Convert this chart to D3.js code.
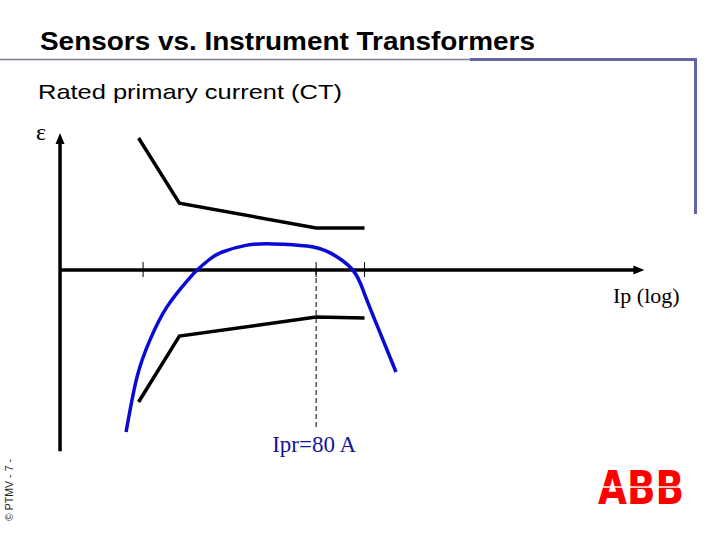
<!DOCTYPE html>
<html>
<head>
<meta charset="utf-8">
<script src="https://cdn.jsdelivr.net/npm/d3@7"></script>
<style>
body{margin:0;background:#fff;overflow:hidden;}
</style>
</head>
<body>
<script>
//primary current in A (log axis), error epsilon in %
var tickValues = [4, 80, 185];
var ratedCurrent = 80;
var upperLimitI = [3.7, 7.5, 80, 185];
var upperLimitE = [4.4, 2.23, 1.4, 1.4];
var lowerLimitI = [3.7, 7.5, 80, 185];
var lowerLimitE = [-4.4, -2.2, -1.57, -1.6];
var sensorI = [2.98, 3.6, 4.51, 6.05, 8.71, 10.2, 12.6, 15.8, 24.2, 37.9, 68.3, 102, 151, 184, 229, 319];
var sensorE = [-5.4, -3.57, -2.33, -1.23, -0.33, 0, 0.35, 0.6, 0.83, 0.87, 0.8, 0.57, 0, -0.77, -1.83, -3.4];

window.onload = drawChart();

function drawChart(){

	var width = 720,
		height = 540;

	var svg = d3.select("body")
		.append("svg")
		.attr("width", width)
		.attr("height", height);

	//scales
	var x = d3.scaleLog()
		.domain([1, 10000])
		.range([63, 595]);

	var y = d3.scaleLinear()
		.domain([-6, 4])
		.range([450, 150]);

	var xAxisMin = 0.95, xAxisMax = 23500,
		yAxisMin = -6.04, yAxisMax = 4.57;

	//title and frame
	svg.append("text")
		.attr("x", 40)
		.attr("y", 50)
		.attr("font-family", "Liberation Sans, Arial, sans-serif")
		.attr("font-weight", "bold")
		.attr("font-size", 26)
		.attr("textLength", 495)
		.attr("lengthAdjust", "spacingAndGlyphs")
		.text("Sensors vs. Instrument Transformers");

	svg.append("line")
		.attr("x1", 0).attr("y1", 59.5)
		.attr("x2", 472).attr("y2", 59.5)
		.attr("stroke", "#7c7c96")
		.attr("stroke-width", 1.5);

	svg.append("path")
		.attr("d", "M470,59.5H695.5V214")
		.attr("fill", "none")
		.attr("stroke", "#6464a4")
		.attr("stroke-width", 3);

	svg.append("text")
		.attr("x", 38)
		.attr("y", 99)
		.attr("font-family", "Liberation Sans, Arial, sans-serif")
		.attr("font-size", 21)
		.attr("textLength", 304)
		.attr("lengthAdjust", "spacingAndGlyphs")
		.text("Rated primary current (CT)");

	//axes
	svg.append("line")
		.attr("x1", x(xAxisMin)).attr("y1", y(0))
		.attr("x2", x(xAxisMax) - 8).attr("y2", y(0))
		.attr("stroke", "#000")
		.attr("stroke-width", 3.5);

	svg.append("path")
		.attr("d", "M" + x(xAxisMax) + "," + y(0) + "l-11,-4.5v9z")
		.attr("fill", "#000");

	svg.append("line")
		.attr("x1", x(xAxisMin)).attr("y1", y(yAxisMin))
		.attr("x2", x(xAxisMin)).attr("y2", y(yAxisMax) + 8)
		.attr("stroke", "#000")
		.attr("stroke-width", 3.5);

	svg.append("path")
		.attr("d", "M" + x(xAxisMin) + "," + y(yAxisMax) + "l-4.5,11h9z")
		.attr("fill", "#000");

	svg.selectAll(".tick")
		.data(tickValues)
		.enter()
		.append("line")
		.attr("class", "tick")
		.attr("x1", function(d){ return x(d); })
		.attr("x2", function(d){ return x(d); })
		.attr("y1", y(0) - 8)
		.attr("y2", y(0) + 7)
		.attr("stroke", "#000")
		.attr("stroke-width", 1);

	//dashed line at rated current
	svg.append("line")
		.attr("x1", x(ratedCurrent)).attr("y1", y(0))
		.attr("x2", x(ratedCurrent)).attr("y2", y(-5.25))
		.attr("stroke", "#000")
		.attr("stroke-width", 1)
		.attr("stroke-dasharray", "5,3");

	//accuracy class limits
	var limitLine = d3.line()
		.x(function(d){ return x(d[0]); })
		.y(function(d){ return y(d[1]); });

	svg.append("path")
		.datum(d3.zip(upperLimitI, upperLimitE))
		.attr("d", limitLine)
		.attr("fill", "none")
		.attr("stroke", "#000")
		.attr("stroke-width", 3.5);

	svg.append("path")
		.datum(d3.zip(lowerLimitI, lowerLimitE))
		.attr("d", limitLine)
		.attr("fill", "none")
		.attr("stroke", "#000")
		.attr("stroke-width", 3.5);

	//sensor error curve
	var sensorLine = d3.line()
		.curve(d3.curveNatural)
		.x(function(d){ return x(d[0]); })
		.y(function(d){ return y(d[1]); });

	svg.append("path")
		.datum(d3.zip(sensorI, sensorE))
		.attr("d", sensorLine)
		.attr("fill", "none")
		.attr("stroke", "#0a0ad2")
		.attr("stroke-width", 3.5);

	//labels
	svg.append("text")
		.attr("x", 36)
		.attr("y", 140)
		.attr("font-family", "Liberation Serif, Times New Roman, serif")
		.attr("font-size", 24)
		.text("ε");

	svg.append("text")
		.attr("x", 613)
		.attr("y", 303)
		.attr("font-family", "Liberation Serif, Times New Roman, serif")
		.attr("font-size", 22)
		.text("Ip (log)");

	svg.append("text")
		.attr("x", x(ratedCurrent) - 2)
		.attr("y", 452)
		.attr("text-anchor", "middle")
		.attr("font-family", "Liberation Serif, Times New Roman, serif")
		.attr("font-size", 23)
		.attr("fill", "#14149a")
		.text("Ipr=80 A");

	//footer
	svg.append("text")
		.attr("transform", "translate(13,521) rotate(-90)")
		.attr("font-family", "Liberation Sans, Arial, sans-serif")
		.attr("font-size", 10.5)
		.attr("textLength", 62)
		.attr("fill", "#222")
		.text("© PTMV - 7 -");

	//logo
	var logo = svg.append("g");
	logo.append("text")
		.attr("x", 598)
		.attr("y", 504)
		.attr("font-family", "DejaVu Sans, sans-serif")
		.attr("font-weight", "bold")
		.attr("font-size", 47)
		.attr("textLength", 86)
		.attr("lengthAdjust", "spacingAndGlyphs")
		.attr("fill", "#ff0000")
		.text("ABB");
	logo.append("line")
		.attr("x1", 596).attr("x2", 688)
		.attr("y1", 487).attr("y2", 487)
		.attr("stroke", "#fff")
		.attr("stroke-width", 1.5);
};
</script>
</body>
</html>
